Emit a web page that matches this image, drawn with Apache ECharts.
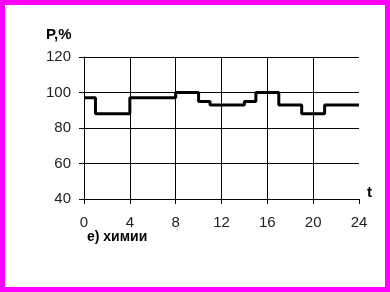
<!DOCTYPE html>
<html><head><meta charset="utf-8">
<script src="https://cdn.jsdelivr.net/npm/echarts@6/dist/echarts.min.js"></script>
<style>html,body{margin:0;padding:0;background:#fff}#c{width:390px;height:292px}</style>
</head><body><div id="c"></div>
<script>
// step points: hour at which a level starts, and the level value (P, %)
var stepHours = [0, 1, 4, 8, 10, 11, 14, 15, 17, 19, 21, 24];
var stepValues = [97, 88, 97, 100, 95, 93, 95, 100, 93, 88, 93, 93];
var xTicks = [0, 4, 8, 12, 16, 20, 24];
var yTicks = [40, 60, 80, 100, 120];
var yLabel = 'P,%';
var xLabel = 't';
var caption = 'е) химии';

var data = stepHours.map(function (h, i) { return [h, stepValues[i]]; });
var chart = echarts.init(document.getElementById('c'), null, {renderer: 'canvas'});
var font = 'Liberation Sans, Arial, sans-serif';
chart.setOption({
  animation: false,
  backgroundColor: '#fff',
  grid: {left: 84, right: 31, top: 57, bottom: 93},
  xAxis: {
    type: 'value', min: xTicks[0], max: xTicks[xTicks.length - 1], interval: 4,
    axisLine: {lineStyle: {color: '#000', width: 1}},
    axisTick: {show: true, length: 5, lineStyle: {color: '#000'}},
    axisLabel: {color: '#222', fontSize: 15, fontFamily: font, margin: 16},
    splitLine: {show: true, lineStyle: {color: ['#000', '#000', '#000', '#000', '#000', '#000', 'rgba(0,0,0,0)'], width: 1}}
  },
  yAxis: {
    type: 'value', min: yTicks[0], max: yTicks[yTicks.length - 1], interval: 20,
    axisLine: {show: true, lineStyle: {color: '#000', width: 1}},
    axisTick: {show: true, length: 5, lineStyle: {color: '#000'}},
    axisLabel: {color: '#222', fontSize: 15, fontFamily: font, margin: 13},
    splitLine: {show: true, lineStyle: {color: '#000', width: 1}}
  },
  series: [{
    type: 'line', step: 'end', data: data, symbol: 'none',
    lineStyle: {color: '#000', width: 3}
  }],
  graphic: [
    {type: 'rect', shape: {x: 2.5, y: 2.5, width: 385, height: 287}, style: {fill: 'none', stroke: '#ff00ff', lineWidth: 5}, silent: true, z: 100},
    {type: 'text', left: 46, top: 27, style: {text: yLabel, font: 'bold 15px ' + font, fill: '#000'}},
    {type: 'text', left: 367, top: 185, style: {text: xLabel, font: 'bold 15px ' + font, fill: '#000'}},
    {type: 'text', left: 87, top: 230, style: {text: caption, font: 'bold 14px ' + font, fill: '#000'}}
  ]
});
</script></body></html>
